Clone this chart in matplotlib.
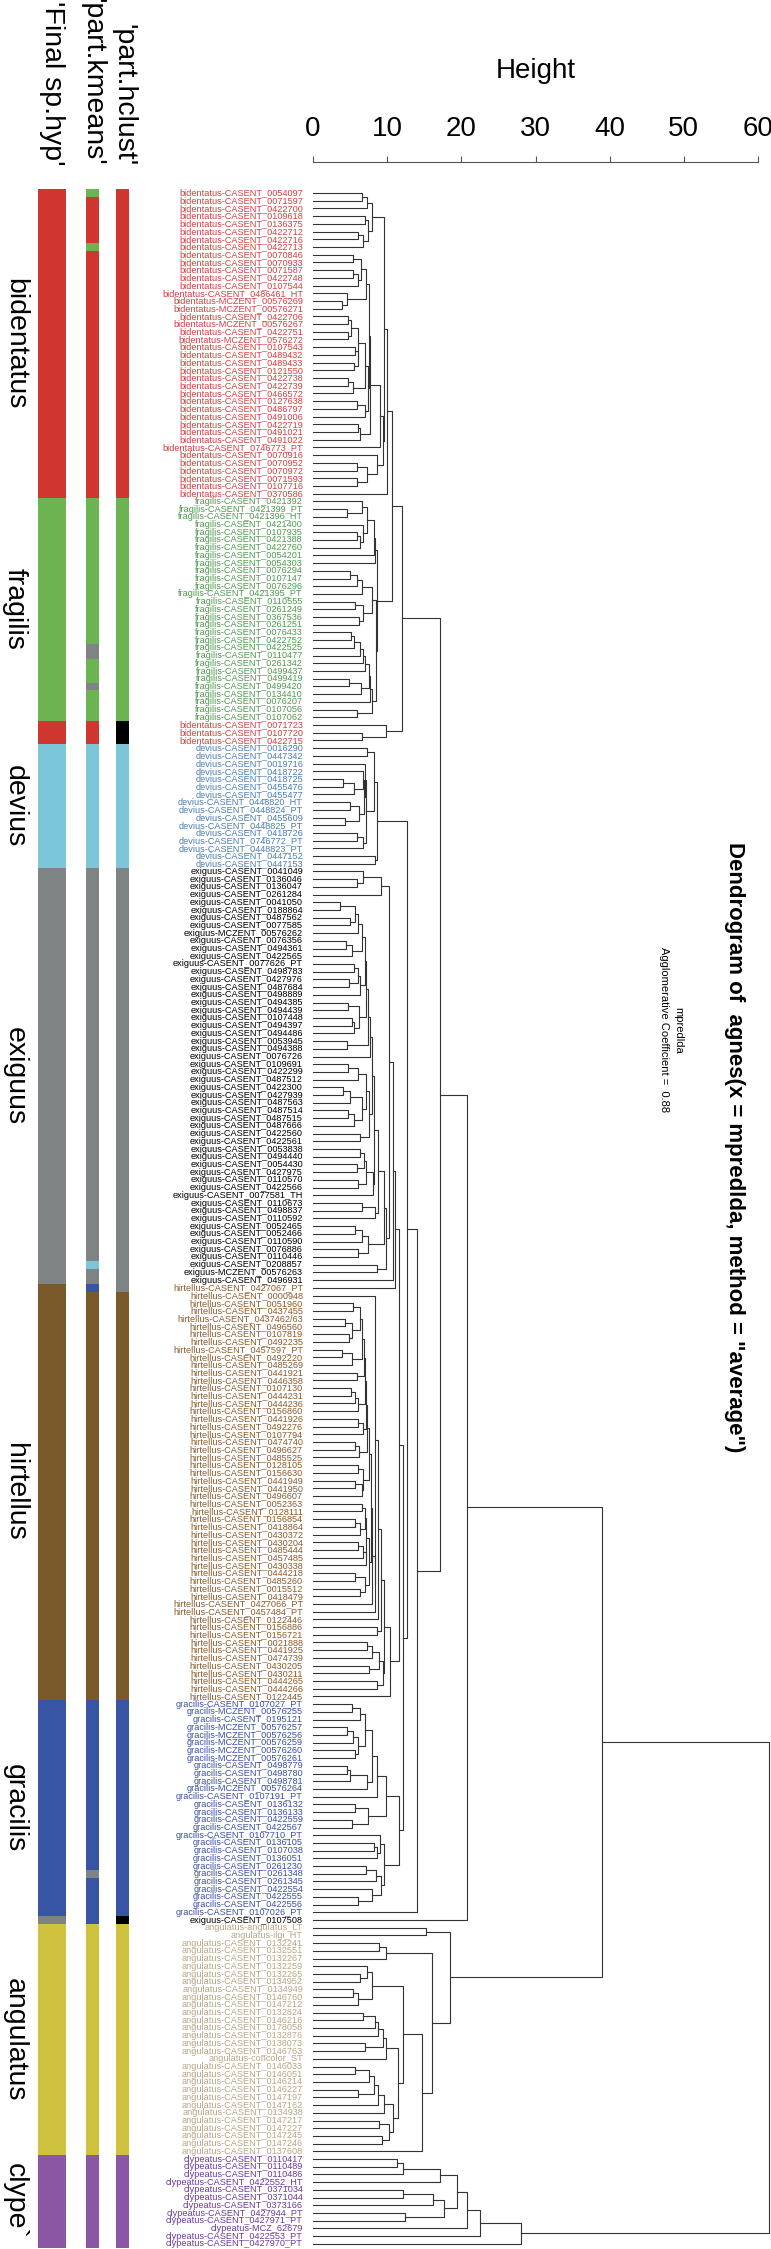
import matplotlib
matplotlib.use("Agg")
import matplotlib.pyplot as plt

plt.rcParams['font.family'] = ['Liberation Sans', 'DejaVu Sans']

W, H = 771, 2249

# ---------------- data ----------------
bidentatus_ids = ["CASENT_0054097", "CASENT_0071597", "CASENT_0422700", "CASENT_0109618", "CASENT_0136375",
                  "CASENT_0422712", "CASENT_0422716", "CASENT_0422713", "CASENT_0070846", "CASENT_0070933",
                  "CASENT_0071587", "CASENT_0422748", "CASENT_0107544", "CASENT_0486461_HT", "MCZENT_00576269",
                  "MCZENT_00576271", "CASENT_0422706", "MCZENT_00576267", "CASENT_0422751", "MCZENT_0576272",
                  "CASENT_0107543", "CASENT_0489432", "CASENT_0489433", "CASENT_0121550", "CASENT_0422738",
                  "CASENT_0422739", "CASENT_0466572", "CASENT_0127638", "CASENT_0486797", "CASENT_0491006",
                  "CASENT_0422719", "CASENT_0491021", "CASENT_0491022", "CASENT_0746773_PT", "CASENT_0070916",
                  "CASENT_0070952", "CASENT_0070972", "CASENT_0071593", "CASENT_0107716", "CASENT_0370586"]
fragilis_ids = ["CASENT_0421392", "CASENT_0421399_PT", "CASENT_0421396_HT", "CASENT_0421400", "CASENT_0107935",
                "CASENT_0421388", "CASENT_0422760", "CASENT_0054201", "CASENT_0054303", "CASENT_0076294",
                "CASENT_0107147", "CASENT_0076296", "CASENT_0421395_PT", "CASENT_0110555", "CASENT_0261249",
                "CASENT_0367536", "CASENT_0261251", "CASENT_0076433", "CASENT_0422752", "CASENT_0422525",
                "CASENT_0110477", "CASENT_0261342", "CASENT_0499437", "CASENT_0499419", "CASENT_0499420",
                "CASENT_0134410", "CASENT_0076207", "CASENT_0107056", "CASENT_0107062"]
bidentatus2_ids = ["CASENT_0071723", "CASENT_0107720", "CASENT_0422715"]
devius_ids = ["CASENT_0016290", "CASENT_0447342", "CASENT_0019716", "CASENT_0418722", "CASENT_0418725",
              "CASENT_0455476", "CASENT_0455477", "CASENT_0448820_HT", "CASENT_0448824_PT", "CASENT_0455609",
              "CASENT_0448825_PT", "CASENT_0418726", "CASENT_0746772_PT", "CASENT_0448823_PT", "CASENT_0447152",
              "CASENT_0447153"]
exiguus_ids = ["CASENT_0041049", "CASENT_0136046", "CASENT_0136047", "CASENT_0261284", "CASENT_0041050",
               "CASENT_0188864", "CASENT_0487562", "CASENT_0077585", "MCZENT_00576262", "CASENT_0076356",
               "CASENT_0494361", "CASENT_0422565", "CASENT_0077626_PT", "CASENT_0498783", "CASENT_0427976",
               "CASENT_0487684", "CASENT_0498889", "CASENT_0494385", "CASENT_0494439", "CASENT_0107448",
               "CASENT_0494397", "CASENT_0494486", "CASENT_0053945", "CASENT_0494388", "CASENT_0076726",
               "CASENT_0109691", "CASENT_0422299", "CASENT_0487512", "CASENT_0422300", "CASENT_0427939",
               "CASENT_0487563", "CASENT_0487514", "CASENT_0487515", "CASENT_0487666", "CASENT_0422560",
               "CASENT_0422561", "CASENT_0053838", "CASENT_0494440", "CASENT_0054430", "CASENT_0427975",
               "CASENT_0110570", "CASENT_0422566", "CASENT_0077581_TH", "CASENT_0110673", "CASENT_0498837",
               "CASENT_0110592", "CASENT_0052465", "CASENT_0052466", "CASENT_0110590", "CASENT_0076886",
               "CASENT_0110446", "CASENT_0208857", "MCZENT_00576263", "CASENT_0496931"]
hirtellus_ids = ["CASENT_0427067_PT", "CASENT_0000948", "CASENT_0051960", "CASENT_0437455", "CASENT_0437462/63",
                 "CASENT_0496560", "CASENT_0107819", "CASENT_0492235", "CASENT_0457597_PT", "CASENT_0492220",
                 "CASENT_0485269", "CASENT_0441921", "CASENT_0446358", "CASENT_0107130", "CASENT_0444231",
                 "CASENT_0444236", "CASENT_0156860", "CASENT_0441926", "CASENT_0492276", "CASENT_0107794",
                 "CASENT_0474740", "CASENT_0496627", "CASENT_0485525", "CASENT_0128105", "CASENT_0156630",
                 "CASENT_0441949", "CASENT_0441950", "CASENT_0496607", "CASENT_0052363", "CASENT_0128111",
                 "CASENT_0156854", "CASENT_0418864", "CASENT_0430372", "CASENT_0430204", "CASENT_0485444",
                 "CASENT_0457485", "CASENT_0430338", "CASENT_0444218", "CASENT_0485260", "CASENT_0015512",
                 "CASENT_0418479", "CASENT_0427066_PT", "CASENT_0457484_PT", "CASENT_0122446", "CASENT_0156886",
                 "CASENT_0156721", "CASENT_0021888", "CASENT_0441925", "CASENT_0474739", "CASENT_0430205",
                 "CASENT_0430211", "CASENT_0444265", "CASENT_0444266", "CASENT_0122445"]
gracilis_ids = ["CASENT_0107027_PT", "MCZENT_00576255", "CASENT_0195121", "MCZENT_00576257", "MCZENT_00576256",
                "MCZENT_00576259", "MCZENT_00576260", "MCZENT_00576261", "CASENT_0498779", "CASENT_0498780",
                "CASENT_0498781", "MCZENT_00576264", "CASENT_0107191_PT", "CASENT_0136132", "CASENT_0136133",
                "CASENT_0422559", "CASENT_0422567", "CASENT_0107710_PT", "CASENT_0136105", "CASENT_0107038",
                "CASENT_0136051", "CASENT_0261230", "CASENT_0261348", "CASENT_0261345", "CASENT_0422554",
                "CASENT_0422555", "CASENT_0422556", "CASENT_0107026_PT"]
exiguus2_ids = ["CASENT_0107508"]
angulatus_ids = ["angulatus_LT", "ilgi_HT", "CASENT_0132241", "CASENT_0132551", "CASENT_0132267",
                 "CASENT_0132259", "CASENT_0132265", "CASENT_0134952", "CASENT_0134949", "CASENT_0146760",
                 "CASENT_0147212", "CASENT_0132824", "CASENT_0146216", "CASENT_0178058", "CASENT_0132876",
                 "CASENT_0138073", "CASENT_0146763", "concolor_ST", "CASENT_0146033", "CASENT_0146051",
                 "CASENT_0146214", "CASENT_0146227", "CASENT_0147197", "CASENT_0147162", "CASENT_0134938",
                 "CASENT_0147217", "CASENT_0147227", "CASENT_0147245", "CASENT_0147246", "CASENT_0137608"]
clypeatus_ids = ["CASENT_0110417", "CASENT_0110489", "CASENT_0110486", "CASENT_0422552_HT", "CASENT_0371034",
                 "CASENT_0371044", "CASENT_0373166", "CASENT_0427944_PT", "CASENT_0427971_PT", "MCZ_62679",
                 "CASENT_0422553_PT", "CASENT_0427970_PT"]

leaf_blocks = [("bidentatus", bidentatus_ids), ("fragilis", fragilis_ids), ("bidentatus", bidentatus2_ids),
               ("devius", devius_ids), ("exiguus", exiguus_ids), ("hirtellus", hirtellus_ids),
               ("gracilis", gracilis_ids), ("exiguus", exiguus2_ids), ("angulatus", angulatus_ids),
               ("clypeatus", clypeatus_ids)]

# partitions, run-length (group, count) in leaf order
kmeans_runs = [("fragilis", 1), ("bidentatus", 6), ("fragilis", 1), ("bidentatus", 32),
               ("fragilis", 19), ("exiguus", 2), ("fragilis", 3), ("exiguus", 1), ("fragilis", 4),
               ("bidentatus", 3), ("devius", 16), ("exiguus", 51), ("devius", 1), ("exiguus", 2),
               ("gracilis", 1), ("hirtellus", 53), ("gracilis", 22), ("exiguus", 1), ("gracilis", 6),
               ("angulatus", 30), ("clypeatus", 12)]
hclust_runs = [("bidentatus", 40), ("fragilis", 29), ("none", 3), ("devius", 16), ("exiguus", 55),
               ("hirtellus", 53), ("gracilis", 28), ("none", 1), ("angulatus", 30), ("clypeatus", 12)]

group_labels = ["bidentatus", "fragilis", "devius", "exiguus", "hirtellus", "gracilis", "angulatus", "clype`"]

# height at which each leaf joins the next one (adjacent leaves)
merge_heights = [
    # bidentatus
    6.6, 7.3, 7.9, 7.0, 7.4, 6.1, 6.8, 9.6, 5.4, 6.5, 5.4, 6.1, 7.2, 4.6, 3.9, 7.6, 4.7, 5.1, 4.7, 6.1,
    5.6, 6.0, 5.5, 7.0, 4.7, 5.4, 7.4, 5.9, 7.0, 7.7, 6.1, 6.3, 9.0, 9.4, 8.6, 5.9, 7.3, 5.9, 10.0,
    10.6,
    # fragilis
    6.6, 4.6, 7.3, 6.8, 5.9, 6.3, 8.2, 8.4, 8.6, 5.0, 5.9, 6.6, 8.0, 5.7, 6.8, 6.2, 8.5, 5.1, 5.5, 6.3,
    6.8, 7.0, 7.5, 4.9, 6.5, 7.7, 7.9, 5.9,
    12.0, 9.9, 6.6, 17.1,
    # devius
    7.3, 8.2, 7.0, 6.8, 4.0, 5.5, 6.9, 5.0, 6.2, 4.3, 7.2, 5.9, 6.8, 8.6, 8.4,
    12.7,
    # exiguus
    6.7, 5.9, 9.2, 10.3, 3.6, 5.6, 5.0, 6.0, 6.6, 4.5, 5.2, 7.0, 5.5, 6.0, 4.8, 6.4, 7.2, 4.7, 6.2, 5.2,
    5.5, 7.4, 4.6, 7.7, 8.0, 4.7, 6.1, 7.2, 4.1, 5.0, 6.6, 4.7, 5.5, 7.6, 6.3, 8.2, 6.3, 6.9, 5.9, 7.1,
    6.0, 8.1, 8.8, 6.6, 8.4, 9.6, 5.7, 6.6, 7.4, 6.0, 9.9, 8.6, 10.8,
    11.0, 11.6,
    # hirtellus
    8.4, 5.4, 6.3, 4.3, 5.2, 4.8, 6.6, 3.9, 5.3, 6.9, 5.9, 7.0, 5.1, 5.6, 6.0, 7.2, 6.1, 6.7, 7.3, 5.6,
    6.2, 7.5, 6.1, 6.8, 5.6, 6.6, 7.8, 6.6, 7.0, 5.6, 6.4, 7.2, 6.1, 6.8, 7.1, 7.6, 5.7, 7.0, 6.4, 8.0,
    8.3, 8.8, 9.2, 8.6, 9.6, 7.3, 8.0, 8.9, 7.6, 9.4, 8.6, 10.4,
    12.1,
    # gracilis
    5.2, 6.4, 7.0, 4.6, 5.4, 6.0, 5.6, 8.0, 4.6, 5.0, 7.3, 8.6, 9.8, 5.6, 7.4, 5.2, 11.6, 9.0, 8.2, 8.6,
    9.6, 7.2, 8.5, 9.2, 8.0, 6.0,
    14.0, 20.8, 39.0,
    # angulatus
    15.2, 18.5, 8.9, 9.8, 16.0, 7.3, 6.3, 8.0, 5.4, 6.0, 12.1, 6.7, 8.3, 8.8, 9.4, 7.0, 9.9, 11.5, 5.7,
    7.6, 8.2, 6.0, 8.8, 9.6, 10.8, 8.9, 10.2, 9.3, 14.7,
    61.5,
    # clypeatus
    11.3, 12.1, 17.1, 19.4, 12.2, 16.2, 17.6, 12.4, 20.8, 22.5, 28.0,
]

height_ticks = [0, 10, 20, 30, 40, 50, 60]

bar_colors = {"bidentatus": "#CF3630", "fragilis": "#6CB452", "devius": "#7BC7D9", "exiguus": "#7F8384",
              "hirtellus": "#7A5A2A", "gracilis": "#3855A5", "angulatus": "#CFC23E",
              "clypeatus": "#8B57A4", "none": "#000000"}
text_colors = {"bidentatus": "#D43F3F", "fragilis": "#4F9A4F", "devius": "#4A7DB5", "exiguus": "#000000",
               "hirtellus": "#8C5A2B", "gracilis": "#3B4FA5", "angulatus": "#B8A684",
               "clypeatus": "#6B3A9E"}

# ---------------- layout ----------------
labels, species = [], []
for sp, ids in leaf_blocks:
    for s in ids:
        labels.append(sp + "-" + s)
        species.append(sp)
n = len(labels)

def runs_of(seq):
    out = []
    for s in seq:
        if out and out[-1][0] == s:
            out[-1][1] += 1
        else:
            out.append([s, 1])
    return out

step = 7.71
y_top = 193 - step / 2
y_bot = y_top + n * step
fig = plt.figure(figsize=(W / 100, H / 100), dpi=100)
pos_y = 1 - y_bot / H
pos_h = (y_bot - y_top) / H

axb = fig.add_axes([0, pos_y, 313 / W, pos_h])
axb.set_xlim(0, 313)
axb.set_ylim(n - 0.5, -0.5)
axb.axis("off")

columns = [(38, 28, [(s, 1) for s in species]), (86, 13, kmeans_runs), (116, 13, hclust_runs)]
for x0, w, runs in columns:
    start = 0
    for grp, cnt in runs:
        axb.barh(start + (cnt - 1) / 2, w, height=cnt, left=x0, color=bar_colors[grp], linewidth=0)
        start += cnt

for i, (lab, sp) in enumerate(zip(labels, species)):
    axb.text(303, i, lab, ha="right", va="center", fontsize=6.6, color=text_colors[sp], clip_on=False)

# species names along the left
start = 0
gi = 0
for sp, cnt in runs_of(species):
    if cnt >= 10:
        yc = y_top + (start + cnt / 2) * step
        fig.text(15 / W, 1 - yc / H, group_labels[gi], rotation=-90, ha="center", va="center", fontsize=20.5)
        gi += 1
    start += cnt

for xc, txt in [(52, "'Final sp.hyp'"), (92, "'part.kmeans'"), (123, "'part.hclust'")]:
    fig.text(xc / W, 1 - 166 / H, txt, rotation=-90, ha="center", va="bottom", fontsize=20.5)

# dendrogram
ax = fig.add_axes([313 / W, pos_y, (758 - 313) / W, pos_h])
ax.set_xlim(0, 60)
ax.set_ylim(n - 0.5, -0.5)

def draw_tree(lo, hi):
    if lo == hi:
        return 0.0, float(lo)
    k = max(range(lo, hi), key=lambda j: merge_heights[j])
    h1, y1 = draw_tree(lo, k)
    h2, y2 = draw_tree(k + 1, hi)
    h = merge_heights[k]
    ax.plot([h1, h, h, h2], [y1, y1, y2, y2], color="#333333", lw=0.8, clip_on=False)
    return h, (y1 + y2) / 2

draw_tree(0, n - 1)

for s in ["left", "right", "bottom"]:
    ax.spines[s].set_visible(False)
ax.spines["top"].set_position(("outward", 19.5))
ax.spines["top"].set_color("#555555")
ax.xaxis.tick_top()
ax.xaxis.set_label_position("top")
ax.set_xticks(height_ticks)
ax.tick_params(axis="x", direction="out", length=4.3, width=0.8, color="#555555",
               labelsize=20, pad=10.5)
ax.set_yticks([])
ax.set_xlabel("Height", fontsize=20, labelpad=27)

fig.text(734 / W, 1 - 1147 / H, 'Dendrogram of  agnes(x = mpredlda, method = "average")',
         rotation=-90, ha="center", va="center", fontsize=16, fontweight="bold")
fig.text(678 / W, 1 - 1030 / H, "mpredlda", rotation=-90, ha="center", va="center", fontsize=8)
fig.text(664 / W, 1 - 1030 / H, "Agglomerative Coefficient =  0.88", rotation=-90, ha="center",
         va="center", fontsize=8)

fig.savefig("out.png", dpi=100)
